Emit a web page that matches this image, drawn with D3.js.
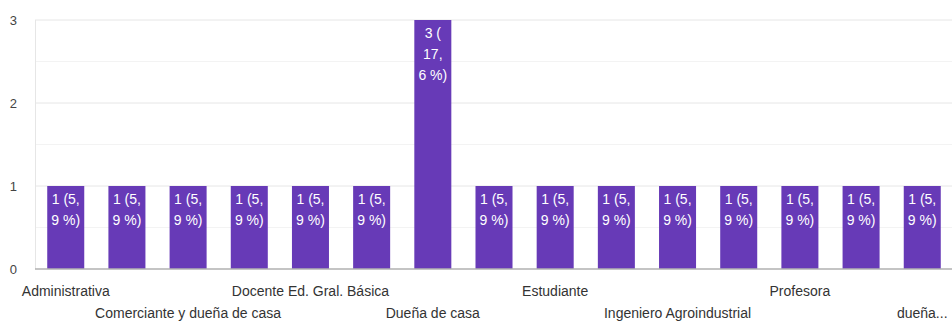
<!DOCTYPE html>
<html>
<head>
<meta charset="utf-8">
<script src="https://cdn.jsdelivr.net/npm/d3@7"></script>
<style>
  body { margin: 0; background: #fff; }
  svg { display: block; font-family: "Liberation Sans", Arial, sans-serif; }
</style>
</head>
<body>
<svg id="chart" width="952" height="325"></svg>
<script>
// categories (odd ones are hidden by the axis, so their names are guesses)
const categories = [
  "Administrativa", "Ama de casa", "Comerciante y dueña de casa", "Contadora",
  "Docente Ed. Gral. Básica", "Docente", "Dueña de casa", "Empleada",
  "Estudiante", "Ingeniera", "Ingeniero Agroindustrial", "Licenciada",
  "Profesora", "Secretaria", "dueña de casa y comerciante"
];
const counts = [1, 1, 1, 1, 1, 1, 3, 1, 1, 1, 1, 1, 1, 1, 1];
const tickLabels = ["Administrativa", "", "Comerciante y dueña de casa", "",
  "Docente Ed. Gral. Básica", "", "Dueña de casa", "", "Estudiante", "",
  "Ingeniero Agroindustrial", "", "Profesora", "", "dueña..."];
const yTicks = [0, 1, 2, 3];

const svg = d3.select('#chart');
const margin = { top: 20, right: -1, bottom: 56, left: 35 };
const width = 952 - margin.left - margin.right;
const height = 325 - margin.top - margin.bottom;

const total = d3.sum(counts);

const xScale = d3.scaleBand()
  .domain(categories)
  .range([0, width])
  .paddingInner(0.395)
  .paddingOuter(0.2);

const yScale = d3.scaleLinear()
  .domain([0, 3])
  .range([height, 0]);

const g = svg.append('g')
  .attr('transform', `translate(${margin.left},${margin.top})`);

//minor grid lines
g.append('g')
  .selectAll('line')
  .data([0.5, 1.5, 2.5])
  .join('line')
  .attr('x1', 0).attr('x2', width)
  .attr('y1', d => yScale(d)).attr('y2', d => yScale(d))
  .attr('stroke', '#f3f3f3');

//major grid lines
g.append('g')
  .selectAll('line')
  .data(yTicks.slice(1))
  .join('line')
  .attr('x1', 0).attr('x2', width)
  .attr('y1', d => yScale(d)).attr('y2', d => yScale(d))
  .attr('stroke', '#e6e6e6');

//left line
g.append('line')
  .attr('x1', 0.5).attr('x2', 0.5)
  .attr('y1', 0).attr('y2', height)
  .attr('stroke', '#e6e6e6');

//y labels
g.append('g')
  .selectAll('text')
  .data(yTicks)
  .join('text')
  .attr('x', -18)
  .attr('y', d => yScale(d))
  .attr('dy', '0.35em')
  .attr('text-anchor', 'end')
  .attr('font-size', 13)
  .attr('fill', '#444')
  .text(d => d);

//bars
g.append('g')
  .selectAll('rect')
  .data(counts)
  .join('rect')
  .attr('x', (d, i) => xScale(categories[i]))
  .attr('y', d => yScale(d))
  .attr('width', xScale.bandwidth())
  .attr('height', d => height - yScale(d))
  .attr('fill', '#673ab7');

//baseline
g.append('line')
  .attr('x1', 0).attr('x2', width)
  .attr('y1', height).attr('y2', height)
  .attr('stroke', '#b0b0b0')
  .attr('stroke-width', 1.5);

//bar labels, wrapped to fit the bar
function fmt(v) {
  const pct = (v / total * 100).toFixed(1).replace('.', ',');
  return `${v} (${pct}\u00a0%)`;
}
const measure = svg.append('text').attr('font-size', 14).attr('visibility', 'hidden');
function wrap(str, maxW) {
  const tokens = str.match(/[^ ,(]*[ ,(]?/g).filter(t => t.length);
  const lines = [];
  let cur = '';
  tokens.forEach(t => {
    const test = cur + t;
    measure.text(test.trim());
    if (cur && measure.node().getComputedTextLength() > maxW) {
      lines.push(cur.trim());
      cur = t;
    } else {
      cur = test;
    }
  });
  if (cur) lines.push(cur.trim());
  return lines;
}

const labels = g.append('g')
  .selectAll('text')
  .data(counts)
  .join('text')
  .attr('text-anchor', 'middle')
  .attr('font-size', 14)
  .attr('fill', '#fff');

labels.each(function (d, i) {
  const lines = wrap(fmt(d), 31);
  const cx = xScale(categories[i]) + xScale.bandwidth() / 2;
  d3.select(this).selectAll('tspan')
    .data(lines)
    .join('tspan')
    .attr('x', cx)
    .attr('y', (l, k) => yScale(d) + 18 + k * 21)
    .text(l => l);
});
measure.remove();

//x labels, alternating rows
g.append('g')
  .selectAll('text')
  .data(tickLabels)
  .join('text')
  .attr('x', (d, i) => xScale(categories[i]) + xScale.bandwidth() / 2)
  .attr('y', (d, i) => height + ((i / 2) % 2 === 0 ? 27 : 49))
  .attr('text-anchor', 'middle')
  .attr('font-size', 14)
  .attr('fill', '#333')
  .text(d => d);
</script>
</body>
</html>
